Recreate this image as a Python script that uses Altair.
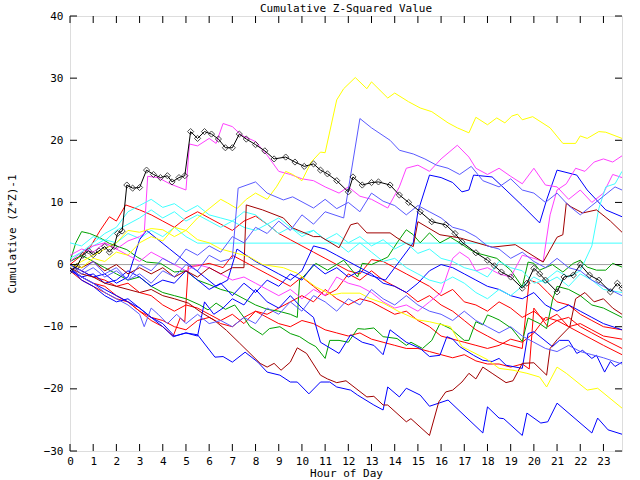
import altair as alt
import pandas as pd

# ---- data (hour of day, cumulative value) ----
black_pts = [(0,-1),(0.3,-0.3),(0.55,1.5),(0.8,2.2),(1.0,1.6),(1.25,2.2),(1.5,2.9),(1.7,2.0),(1.9,2.9),(2.05,5.0),(2.25,5.4),(2.45,12.8),(2.7,12.3),(3.0,12.4),(3.3,15.2),(3.6,14.5),(3.9,14.0),(4.2,14.3),(4.4,13.3),(4.7,14.0),(4.95,14.3),(5.2,21.4),(5.5,20.3),(5.8,21.4),(6.1,21.0),(6.4,20.2),(6.7,18.8),(7.0,18.8),(7.3,21.0),(7.6,20.2),(8.0,19.3),(8.4,18.3),(8.8,17.0),(9.3,17.3),(9.7,16.5),(10.1,15.8),(10.5,16.2),(10.8,15.2),(11.1,14.6),(11.5,13.5),(12.0,11.7),(12.2,14.1),(12.6,12.8),(13.0,13.2),(13.3,13.3),(13.8,12.8),(14.2,11.2),(14.6,10.0),(15.1,8.5),(15.6,6.9),(16.2,6.4),(16.6,5.0),(16.9,3.6),(17.5,1.9),(18.0,0.7),(18.3,-0.2),(18.6,-1.2),(19.0,-2.0),(19.5,-3.8),(19.7,-3.0),(20.0,-0.6),(20.25,-1.5),(20.5,-2.5),(21.0,-4.4),(21.3,-2.0),(21.7,-1.7),(22.0,0.0),(22.4,-1.7),(22.8,-2.5),(23.3,-4.4),(23.6,-3.0),(23.8,-3.8)]

magenta_hi_pts = [(0,0.5),(0.5,2.0),(1.0,3.0),(1.5,3.5),(2.0,2.5),(2.5,3.8),(3.0,4.5),(3.2,5.0),(3.35,14.2),(3.8,14.0),(4.3,13.0),(5.0,12.0),(5.15,19.4),(5.5,19.1),(6.0,20.3),(6.3,19.5),(6.6,22.7),(7.0,22.2),(7.4,20.8),(8.0,19.8),(8.5,17.6),(9.0,15.0),(9.5,14.5),(10.0,13.8),(10.5,13.5),(11.0,12.5),(11.6,11.5),(12.0,12.5),(12.5,11.0),(13.0,10.5),(13.7,9.1),(14.2,12.5),(14.5,15.5),(15.0,16.0),(15.5,15.0),(16.0,17.0),(16.7,19.2),(17.2,17.3),(17.5,15.5),(18.0,14.5),(18.5,15.5),(19.0,14.2),(19.5,13.0),(20.0,15.5),(20.5,12.8),(21.0,12.5),(21.5,10.5),(22.0,12.0),(22.5,10.0),(23.0,11.5),(23.4,14.5),(23.8,14.0)]

yellow_hi_pts = [(0,0),(0.5,-0.5),(1.0,1.0),(1.5,0.5),(2.0,2.0),(2.5,1.5),(3.0,3.5),(3.5,4.5),(4.0,3.8),(4.5,6.0),(5.0,5.5),(5.5,7.5),(6.0,9.0),(6.5,10.5),(6.8,9.9),(7.2,9.0),(7.6,10.5),(8.0,11.5),(8.5,10.5),(8.9,12.5),(9.3,15.0),(9.6,14.5),(10.0,13.5),(10.4,16.5),(10.8,18.1),(11.0,18.0),(11.5,26.5),(11.8,28.3),(12.3,30.1),(12.8,28.3),(13.0,29.4),(13.7,26.8),(14.0,27.6),(14.6,26.2),(15.1,25.2),(15.6,24.6),(16.3,22.8),(16.7,22.0),(17.2,21.2),(17.5,23.7),(18.0,22.5),(18.4,23.6),(18.75,22.8),(19.05,23.9),(19.3,24.2),(19.5,23.3),(19.95,23.8),(20.7,22.0),(21.25,19.5),(21.8,19.5),(22.0,20.7),(22.3,20.3),(22.8,21.4),(23.1,21.3),(23.8,20.3)]

lblue_peak_pts = [(0,0),(0.5,-1.5),(1,-0.5),(1.5,-2),(2,-1),(2.5,-2.5),(3,0),(3.5,-1),(4,1),(4.5,0),(5,2.5),(5.5,1.5),(6,3),(6.5,2),(7,4.5),(7.5,3.5),(8,6),(8.5,5.0),(9,7),(9.5,5.5),(10,8),(10.5,6.5),(11,8.5),(11.8,7.5),(12.5,23.5),(13.0,22),(13.8,20),(14.2,18.4),(14.8,17.8),(15.3,17.0),(15.8,16),(16.3,15.5),(16.8,14.5),(17.3,15.8),(17.8,13.5),(18.5,12.5),(19.0,13.8),(19.5,12.0),(20.0,11.5),(20.5,10.0),(21.0,11.5),(21.5,9.5),(22.0,8.0),(22.5,9.5),(23.0,11.0),(23.5,12.5),(23.8,12.0)]

lblue2_pts = [(0,0),(0.5,-1),(1,0.5),(1.5,-1.5),(2,-0.5),(2.5,-2.5),(3,-1.5),(3.5,-3),(4,-1),(4.5,-2),(5,0),(5.5,-1),(6,1.5),(6.5,0.5),(7.0,1.0),(7.25,12.3),(8.0,13.3),(8.5,11.5),(9.2,10.4),(9.6,10.9),(10.5,9.1),(11,10.5),(11.5,9.0),(12,10.0),(12.5,8.5),(13,11.5),(13.5,10.2),(14.0,9.5),(14.5,8.0),(15,9.5),(15.5,8.5),(16,7.5),(16.5,6.0),(17,5.5),(17.5,4.5),(18,3.0),(18.5,2.5),(19,1.0),(19.5,2.0),(20,0.5),(20.5,-0.5),(21,1.0),(21.5,-0.5),(22,-1.0),(22.5,-2.5),(23,-3.5),(23.8,-5.0)]

lblue3_pts = [(0,-0.5),(0.5,-2),(1,-3),(1.5,-4.5),(2,-5.5),(2.5,-6.5),(3,-8.0),(3.2,-10),(3.5,-7),(3.8,-8),(4.2,-9.5),(4.6,-8),(5,-9.5),(5.5,-8),(6,-9.5),(6.5,-9),(7,-10),(7.5,-8.5),(8,-9.5),(8.5,-7),(9,-8),(9.5,-6),(10,-7.5),(10.5,-5),(11,-6),(11.5,-7.5),(12,-5.5),(12.5,-6.5),(13,-4),(13.5,-5.5),(14,-6.5),(14.5,-5.0),(15,-6.5),(15.5,-7.5),(16,-8),(16.5,-9),(17,-7.5),(17.5,-9),(18,-10),(18.5,-11),(19,-10),(19.5,-11.5),(20,-12.5),(20.5,-13.5),(21,-14),(21.5,-13),(22,-14),(22.5,-14.5),(23,-15),(23.8,-16)]

blue_up_pts = [(0,-0.5),(0.5,-2),(1,-1.5),(1.5,-3),(2,-2.5),(2.5,-1),(3,-2),(3.5,-3.5),(4,-2.5),(4.5,-3),(5,-1),(5.5,-2.5),(6,-4),(6.5,-3),(7,-5),(7.5,-3),(8,-4.5),(8.5,-2.5),(9,-3.5),(9.5,-1.5),(10,-2.5),(10.5,0),(11,-1.5),(11.5,-0.5),(12,-2.0),(12.5,-1),(13,-1.8),(13.6,-2.5),(14.8,3.5),(15.0,8.5),(15.5,14.4),(16,14.0),(16.5,13.2),(16.9,11.7),(17.2,12.0),(17.4,14.4),(18.2,14.1),(18.8,12.0),(19.5,9.5),(20.25,6.7),(20.55,10.4),(21.0,15.2),(21.85,14.4),(22.3,12.0),(23.1,8.8),(23.8,7.7)]

blue3_pts = [(0,0),(0.5,-1),(1,-2),(1.5,-1.5),(2,-3),(2.5,-2),(3,4),(3.3,5.5),(3.8,4.0),(4.3,2.5),(4.8,1.0),(5.3,-0.5),(5.8,-2.0),(6.3,-3.5),(6.8,-2.5),(7.2,2.5),(7.6,1.5),(8.0,0.5),(8.5,-0.5),(9.0,-1.5),(9.5,-2.5),(10,-1.0),(10.5,3.0),(11,2.5),(11.5,1.5),(12,0.5),(12.5,-0.5),(13,-1.5),(13.5,-3.0),(14,-3.5),(14.5,-4.5),(15,-3),(15.5,-1),(16,0),(16.5,-0.5),(17,-1.5),(17.5,-2.5),(18,-3.5),(18.5,-4),(19,-5),(19.5,-5.5),(20,-4.5),(20.5,-6.5),(21,-7.5),(21.5,-6.5),(22,-7.5),(22.5,-8.5),(23,-9.5),(23.8,-10.5)]

blue4_pts = [(0,-0.5),(0.5,-2.5),(1,-3.5),(1.5,-5),(2,-6),(2.5,-5.5),(3,-7),(3.5,-8.5),(4,-9.5),(4.5,-11.5),(5,-11),(5.5,-11.5),(5.8,-6),(6.2,-8),(6.6,-7),(7,-5.5),(7.5,-6.5),(8,-4),(8.5,-6),(9,-7),(9.5,-5),(10,-7),(10.5,-8.5),(10.8,-12.5),(11.6,-14.3),(12.1,-11.3),(12.6,-12.5),(13.1,-13),(13.5,-14.5),(13.8,-10.5),(14.5,-12.5),(15.1,-13.5),(15.5,-14.8),(15.95,-14.6),(16.25,-11.6),(16.5,-12),(16.8,-13.2),(17.4,-14.6),(17.8,-15.4),(18.2,-15.6),(18.5,-15.1),(18.8,-16.2),(19.5,-16.7),(19.75,-11.1),(20.0,-10.8),(20.8,-13.2),(21.1,-12.2),(21.5,-12.2),(21.85,-14.3),(22.1,-13.8),(22.5,-15.1),(22.7,-14.6),(23.05,-17.3),(23.3,-15.6),(23.5,-16.4),(23.8,-15.7)]

blue_low_pts = [(0,-1),(0.5,-2),(1,-3),(1.5,-4),(2,-5),(2.5,-6),(3,-7),(3.5,-8.5),(4,-10),(4.45,-11.6),(5.0,-11),(5.5,-11.3),(6.25,-14.9),(6.6,-14.8),(7.0,-15.7),(7.55,-14.1),(8.1,-15.7),(8.5,-17.3),(9.05,-17.8),(9.5,-18.9),(9.8,-18.9),(10.3,-20.8),(10.8,-18.9),(11.2,-18.9),(11.5,-19.7),(12.1,-20.2),(12.4,-21),(13.1,-22.6),(13.5,-23.4),(13.7,-19.7),(14.2,-21.3),(14.5,-19.9),(15.1,-21),(15.5,-22.8),(16.3,-21.8),(17.8,-27.1),(18.0,-22.9),(18.5,-24.7),(18.7,-24.8),(19.5,-27.5),(19.7,-23.9),(20.3,-25.5),(20.6,-25.3),(21.0,-22.3),(22.5,-27.1),(22.75,-24.7),(23.2,-26.6),(23.8,-27.3)]

cyan_end_pts = [(0,3.5),(0.5,3.0),(1,4.5),(1.5,3.8),(2,5.5),(2.5,6.5),(3,7.5),(3.5,8.8),(4,7.5),(4.5,8.5),(5,7.0),(5.5,8.0),(6,7.0),(6.5,6.0),(7,7.0),(7.5,6.0),(8,5.5),(8.5,6.5),(9,5.0),(9.5,6.0),(10,4.5),(10.5,5.5),(11,4.0),(11.5,5.0),(12,3.5),(12.5,4.5),(13,3.0),(13.5,4.0),(14,2.5),(14.5,3.5),(15,1.8),(15.5,2.5),(16,1.0),(16.5,0.5),(17,-0.5),(17.5,-1.0),(18,-2.0),(18.5,0.5),(19,-0.5),(19.5,-1.0),(20,-3.0),(20.5,-2.5),(21,-1.0),(21.5,-2.0),(22,-1.0),(22.5,3.0),(22.8,9.0),(23.1,12.5),(23.5,13.0),(23.8,15.0)]

cyan_flat_pts = [(0,0.5),(0.5,1.5),(1,3),(1.5,4),(2,3.5),(2.5,5),(3,4.2),(3.5,5.5),(4,4.5),(4.5,6),(5,4.5),(5.5,3.45),(23.8,3.45)]

cyan2_pts = [(0,1),(0.5,2),(1,3.5),(1.5,5),(2,6),(2.5,8.5),(3,9.5),(3.5,10.5),(4,9.2),(4.5,9.8),(5,8.5),(5.5,9.5),(6,8),(6.5,7.5),(7,7),(7.5,8.5),(8,8),(8.5,6.5),(9,7.5),(9.5,6),(10,5),(10.5,5.5),(11,4),(11.5,3.5),(12,2),(12.5,3.5),(13,2.0),(13.5,0.5),(14,1),(14.5,-0.5),(15,-1.5),(15.5,-2.5),(16,-3),(16.5,-2),(17,-3),(17.5,-4.5),(18,-5.5),(18.5,-4),(19,-5),(19.5,-3.5),(20,-2),(20.5,-3),(21,-2),(21.5,-3.5),(22,-1.5),(22.5,-2.5),(23,-4),(23.8,-4.5)]

zero_pts = [(0,0),(23.8,0)]

dred_up_pts = [(0,0),(0.5,-0.5),(1,0.5),(1.5,-1),(2,0),(2.5,-1.5),(3,-0.5),(3.5,-1.5),(4,-0.5),(4.5,-2),(5,-1),(5.5,-2),(6,-0.5),(6.5,-1.5),(7,-0.5),(7.5,-0.5),(7.6,9.6),(8.3,8.8),(9.2,7.5),(9.6,5.9),(10.5,4.5),(10.8,4.5),(11.6,2.7),(12.1,6.4),(12.4,6.7),(12.8,5.1),(13.8,5.1),(14.1,4.3),(14.5,3.4),(14.8,2.9),(15.0,6.9),(15.95,4.8),(16.8,4.3),(18.2,2.8),(19.2,3.2),(20.4,0.4),(21.0,4.4),(21.25,4.8),(21.4,9.9),(21.6,9.3),(22.1,8.3),(22.7,8.8),(23.3,7.0),(23.8,5.2)]

red1_pts = [(0,0),(0.5,1.5),(0.9,3.0),(1.3,5.5),(1.7,7.7),(2.0,7.0),(2.4,9.6),(3.0,8.8),(3.5,8.0),(4.0,7.0),(4.5,6.0),(5.0,7.5),(5.5,8.5),(6.0,7.5),(6.5,6.5),(7.0,5.5),(7.5,7.0),(8.0,7.8),(8.5,6.5),(9.0,5.0),(9.5,4.0),(10.0,3.0),(10.5,2.0),(11.0,1.0),(11.5,0.0),(12.0,-1.0),(12.5,-1.5),(13.0,0.8),(13.5,0.5),(14.0,-0.5),(14.5,-1.5),(15.0,-2.5),(15.5,-3.5),(16.0,-5.0),(16.5,-4.0),(17.0,-6.0),(17.5,-6.5),(18.0,-7.5),(18.5,-6.0),(19.0,-7.0),(19.5,-8.5),(20.0,-7.5),(20.5,-9.0),(21.0,-8.0),(21.5,-10.0),(22.0,-9.5),(22.5,-10.5),(23.0,-11.5),(23.8,-12.0)]

red2_pts = [(0,-0.5),(0.5,-2.0),(1.0,-3.0),(1.5,-3.5),(2.0,-5.0),(2.5,-6.0),(3.0,-7.5),(3.5,-9.0),(4.0,-10.0),(4.45,-11.5),(4.75,-8.6),(4.95,-9.2),(5.1,-0.3),(5.5,-0.2),(6.0,0.2),(6.6,-0.5),(7.0,1.5),(7.5,0.5),(8.0,-0.5),(8.5,-1.5),(9.0,-2.5),(9.5,-3.5),(10,-2.0),(10.5,-3.5),(11,-5.0),(11.5,-4.0),(12.0,-1.5),(12.5,-2.5),(13.0,-1.0),(13.5,-2.5),(14.0,-3.5),(14.5,-4.5),(15.0,-6.0),(15.5,-5.0),(16.0,-6.5),(16.5,-7.5),(17.0,-9.0),(17.5,-10.5),(18.0,-11.5),(18.5,-12.5),(19.0,-13.0),(19.5,-13.5),(19.8,-2.5),(20.2,-3.0),(20.6,-4.5),(21.0,-6.0),(21.5,-6.5),(22.0,-8.0),(22.5,-9.0),(23.0,-10.0),(23.8,-10.5)]

red3_pts = [(0,-1),(0.5,-2.5),(1,-3.5),(1.5,-4.5),(2,-5.5),(2.5,-6.0),(3,-7.5),(3.5,-8.5),(4,-9.0),(4.5,-10.0),(5,-10.5),(5.5,-9.0),(6,-8.5),(6.5,-9.5),(7,-10.0),(7.5,-8.5),(8,-7.5),(8.5,-8.5),(9,-9.5),(9.5,-10.0),(10,-9.0),(10.5,-9.5),(11,-10.5),(11.5,-11.0),(12,-11.5),(12.5,-11.0),(13,-12.0),(13.5,-12.5),(14,-13.0),(14.5,-13.5),(15,-13.5),(15.5,-14.0),(16,-14.5),(16.5,-15.0),(17,-14.5),(17.5,-15.5),(18,-16.0),(18.5,-16.0),(19.0,-16.5),(19.5,-16.0),(19.8,-16.8),(20.0,-7.0),(20.3,-8.5),(20.6,-10.0),(21.0,-9.0),(21.5,-10.0),(22.0,-11.0),(22.5,-12.0),(23.0,-13.0),(23.8,-14.5)]

red4_pts = [(0,0),(0.5,-1),(1,-2),(1.5,-2.5),(2,-3.5),(2.5,-3),(3,-4.5),(3.5,-5),(4,-6.5),(4.5,-7.5),(5,-6.5),(5.5,-7),(6,-8),(6.5,-9),(7,-8),(7.5,-9.5),(8,-7.5),(8.5,-8),(9,-7),(9.5,-6),(10,-5),(10.5,-6),(11,-4),(11.5,-5.5),(12,-6.5),(12.5,-5.5),(13,-6),(13.5,-7),(14,-8),(14.5,-7.5),(15,-9),(15.5,-10),(16,-11.5),(16.5,-12),(17,-12.5),(17.5,-13),(18,-13.5),(18.5,-13),(19,-12),(19.5,-12.5),(20,-11),(20.5,-8.5),(21,-9),(21.5,-8.5),(22,-10),(22.5,-11),(23,-12),(23.8,-13.5)]

yellow_lo_pts = [(0,-0.5),(0.5,0.5),(1,1.5),(1.5,2.5),(2,3.5),(2.5,5.5),(3,5.2),(3.5,5.8),(4,5.6),(4.5,4.5),(5,5.5),(5.5,4.0),(6,3.5),(6.5,2.5),(7,2.0),(7.5,1.5),(7.75,1.2),(8.3,0),(9.2,-0.5),(9.8,-1.4),(10.2,-2.5),(10.6,-3.6),(11.3,-4.9),(11.7,-4.6),(12.5,-4.6),(12.9,-5.4),(13.5,-6.2),(14.2,-7.6),(15.0,-8.9),(15.5,-9.2),(16.4,-10),(16.9,-13.2),(18.0,-15.3),(18.5,-16.7),(19.1,-17),(19.7,-17.5),(20.25,-18.1),(20.55,-19.7),(21.0,-16.5),(21.4,-17.5),(22.3,-20.2),(22.75,-19.9),(23.8,-23.1)]

dred_lo_pts = [(0,-0.5),(0.5,-1.5),(1,-2),(1.5,-3),(2,-3.5),(2.5,-4),(3,-4.5),(3.5,-4),(4,-5),(4.5,-5.5),(5.1,-6.2),(5.7,-7.8),(6.2,-8.9),(6.75,-10.6),(7.3,-12.6),(8.2,-15.9),(8.5,-16.5),(8.8,-15.9),(9.1,-17),(9.5,-15.7),(9.8,-13.4),(10.2,-14.3),(10.8,-17.8),(11.1,-18.4),(11.5,-19),(11.9,-18.7),(12.8,-21.3),(13.1,-21.2),(13.5,-22.6),(13.7,-22.6),(14.5,-25.3),(14.7,-24.8),(15.5,-27.5),(15.9,-22.1),(16.2,-20.5),(16.5,-20.2),(16.9,-18.9),(17.2,-17.5),(17.5,-18.4),(17.8,-16.5),(18.2,-17.5),(18.8,-19),(19.1,-18.7),(19.5,-15.9),(20.0,-15.8),(20.55,-17.8),(20.7,-13.5),(21.0,-12.1),(21.55,-10),(21.8,-5.5),(22.2,-4.5),(22.6,-6.0),(23.0,-5.5),(23.4,-7.0),(23.8,-8.0)]

green1_pts = [(0,0.5),(0.5,1.5),(1,0.5),(1.5,-0.5),(2,-1.5),(2.5,-2.5),(3,-2.0),(3.5,-3.5),(4,-4.5),(4.5,-5.0),(5,-5.5),(5.6,-6.5),(5.95,-7.3),(6.3,-6.2),(6.7,-7.2),(7.1,-6.5),(7.5,-8.5),(7.76,-10),(8.3,-11.3),(8.6,-10.3),(9.05,-10),(9.5,-11.1),(9.9,-11.6),(10.3,-12.6),(10.6,-13.2),(11.0,-15.1),(11.2,-12.2),(11.6,-12.2),(12,-12.5),(12.4,-10.3),(12.7,-10.4),(13.1,-10.2),(13.5,-11.6),(14.1,-11.9),(14.5,-13),(14.7,-12.5),(15.2,-13.5),(15.6,-12.2),(15.95,-9.5),(16.4,-10.3),(17.0,-12.2),(17.2,-12.2),(17.5,-9.2),(17.8,-9.7),(18.0,-8.1),(18.2,-8.4),(18.5,-8.9),(19.05,-10.3),(19.5,-12.4),(19.75,-8.6),(20.25,-9.5),(20.55,-10.3),(20.8,-5.7),(21.0,-3.5),(21.5,-4.0),(22.0,-5.0),(22.5,-6.5),(23.0,-7.0),(23.8,-8.5)]

green2_pts = [(0,0.5),(0.25,3.5),(0.5,5.3),(0.85,5),(1.3,4.3),(1.7,3.4),(2.45,2.4),(2.9,1.2),(3.3,0.4),(3.9,0.2),(4.5,-1.2),(5.0,-1.0),(5.5,-2.5),(6.0,-3.2),(6.5,-4.0),(7.0,-4.5),(7.5,-5.5),(8.0,-6.5),(8.5,-7.2),(9.0,-7.5),(9.5,-8.0),(9.8,-8.5),(9.9,-2.5),(10.05,-2),(10.6,0.2),(11.1,-0.9),(11.8,0.7),(12.4,-2),(12.6,0.2),(13.0,0.0),(13.7,1.2),(14.1,3.5),(14.5,5.6),(14.8,4.8),(15.1,3.5),(15.5,5.1),(15.95,3.5),(16.4,4.4),(16.8,3.5),(17.2,2.5),(17.5,1.9),(18.4,1.0),(19.0,-0.9),(19.5,-3.6),(19.75,0.4),(20.0,0.2),(20.25,-0.9),(20.8,0.0),(21.25,-1.2),(21.7,0.2),(22.0,0.7),(22.3,-0.4),(22.7,-0.9),(23.1,-0.9),(23.4,0.2),(23.8,-0.4)]

magenta2_pts = [(0,1.5),(0.5,2.5),(1,2),(1.5,3.5),(2,2.5),(2.5,1.5),(3,0.5),(3.5,2),(4,1),(4.5,0),(5,-1),(5.5,0),(6,-0.5),(6.5,-1.5),(7,-2.5),(7.5,-2),(8,-3),(8.5,-4),(9,-5),(9.5,-4),(10,-5.5),(10.5,-4),(11,-5),(11.5,-2),(12,-3),(12.5,-3.5),(13,-4.5),(13.5,-6),(14,-7),(14.5,-6.5),(15,-7.5),(15.5,-6),(16,-4.5),(16.5,1),(16.8,2),(17.2,1),(17.5,-1),(18,-0.5),(18.5,-1.5),(19,-2),(19.5,1.5),(20.0,1.0),(20.4,0.5),(20.7,8),(21.0,12),(21.4,13),(21.8,15.5),(22.2,15),(22.6,16.5),(23.0,17.0),(23.4,16.5),(23.8,17.5)]

series = [
    ("zero", "#a0a0a0", zero_pts),
    ("cyan_flat", "#40ffff", cyan_flat_pts),
    ("red1", "#ff0000", red1_pts),
    ("red2", "#ff0000", red2_pts),
    ("red3", "#ff0000", red3_pts),
    ("red4", "#ff0000", red4_pts),
    ("green1", "#00a000", green1_pts),
    ("green2", "#00a000", green2_pts),
    ("blue3", "#0000ff", blue3_pts),
    ("blue4", "#0000ff", blue4_pts),
    ("blue_low", "#0000ff", blue_low_pts),
    ("blue_up", "#0000ff", blue_up_pts),
    ("magenta2", "#ff40ff", magenta2_pts),
    ("magenta_hi", "#ff40ff", magenta_hi_pts),
    ("cyan_end", "#40ffff", cyan_end_pts),
    ("cyan2", "#40ffff", cyan2_pts),
    ("dred_up", "#a00000", dred_up_pts),
    ("dred_lo", "#a00000", dred_lo_pts),
    ("yellow_lo", "#ffff00", yellow_lo_pts),
    ("yellow_hi", "#ffff00", yellow_hi_pts),
    ("lblue_peak", "#5a5aff", lblue_peak_pts),
    ("lblue2", "#5a5aff", lblue2_pts),
    ("lblue3", "#5a5aff", lblue3_pts),
    ("black", "#000000", black_pts),
]

x_ticks = list(range(0, 24))
y_ticks = [-30, -20, -10, 0, 10, 20, 30, 40]

rows = []
for k, (name, col, pts) in enumerate(series):
    for i, (h, v) in enumerate(pts):
        rows.append({"series": name, "k": k, "i": i, "hour": h, "value": v})
df = pd.DataFrame(rows)

W, H = 552, 435
FONT = "DejaVu Sans Mono"
FS = 11
xs = alt.Scale(domain=[0, 23.8], nice=False, zero=False)
ys = alt.Scale(domain=[-30, 40], nice=False, zero=False)

x_axis = alt.Axis(values=x_ticks, title="Hour of Day", grid=False, ticks=False,
                  domain=False, labelFont=FONT, labelFontSize=FS, titleFont=FONT,
                  titleFontSize=FS, titleFontWeight="normal", labelPadding=4,
                  labelOverlap=False, titleY=25, titleBaseline="alphabetic",
                  labelColor="black", titleColor="black", labelFlush=False)
y_axis = alt.Axis(values=y_ticks, title="Cumulative (Z*Z)-1", grid=False, ticks=False,
                  domain=False, labelFont=FONT, labelFontSize=FS, titleFont=FONT,
                  titleFontSize=FS, titleFontWeight="normal", labelPadding=7,
                  labelOverlap=False,
                  titleX=-58, titleY=H / 2, titleAlign="center", titleBaseline="middle",
                  labelColor="black", titleColor="black", labelFlush=False)

names = [s[0] for s in series]
cols = [s[1] for s in series]

lines = alt.Chart(df).mark_line(strokeWidth=1, clip=True).encode(
    x=alt.X("hour:Q", scale=xs, axis=x_axis, title="Hour of Day"),
    y=alt.Y("value:Q", scale=ys, axis=y_axis, title="Cumulative (Z*Z)-1"),
    color=alt.Color("series:N", scale=alt.Scale(domain=names, range=cols), legend=None),
    detail="series:N",
    order="i:Q",
)

black_df = df[df["series"] == "black"]
markers = alt.Chart(black_df).mark_point(shape="diamond", size=38, filled=False,
                                         color="black", strokeWidth=1, clip=True).encode(
    x=alt.X("hour:Q", scale=xs, axis=x_axis, title="Hour of Day"),
    y=alt.Y("value:Q", scale=ys, axis=y_axis, title="Cumulative (Z*Z)-1"))

xt_df = pd.DataFrame({"t": x_ticks})
yt_df = pd.DataFrame({"t": y_ticks})
xt_bot = alt.Chart(xt_df).mark_rule(color="black").encode(
    x=alt.X("t:Q", scale=xs, axis=x_axis, title="Hour of Day"), y=alt.value(H), y2=alt.value(H - 7))
xt_top = alt.Chart(xt_df).mark_rule(color="black").encode(
    x=alt.X("t:Q", scale=xs, axis=x_axis, title="Hour of Day"), y=alt.value(0), y2=alt.value(7))
yt_l = alt.Chart(yt_df).mark_rule(color="black").encode(
    y=alt.Y("t:Q", scale=ys, axis=y_axis, title="Cumulative (Z*Z)-1"), x=alt.value(0), x2=alt.value(7))
yt_r = alt.Chart(yt_df).mark_rule(color="black").encode(
    y=alt.Y("t:Q", scale=ys, axis=y_axis, title="Cumulative (Z*Z)-1"), x=alt.value(W), x2=alt.value(W - 7))

chart = alt.layer(lines, markers, xt_bot, xt_top, yt_l, yt_r).properties(
    width=W, height=H,
    title=alt.TitleParams("Cumulative Z-Squared Value", font=FONT, fontSize=FS,
                          fontWeight="normal", anchor="middle", offset=3, dy=7, color="black"),
    autosize=alt.AutoSizeParams(type="none"),
    padding={"left": 70, "top": 16, "right": 18, "bottom": 29},
).configure_view(stroke="black", strokeWidth=1).configure_axis(
    labelOverlap=False).configure(background="white")

chart.save("out.html", embed_options={"renderer": "svg", "actions": False})
